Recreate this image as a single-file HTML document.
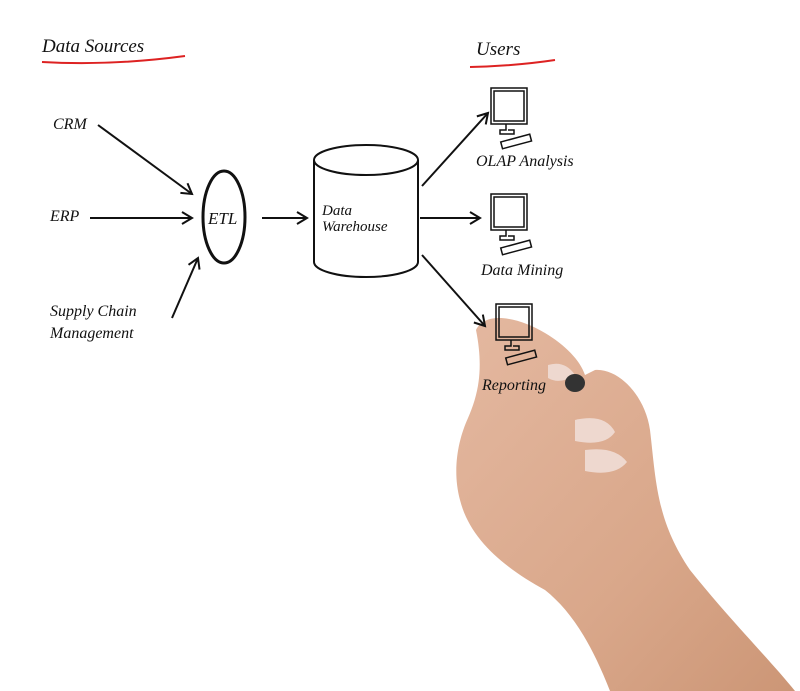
<!DOCTYPE html>
<html><head><style>
html,body{margin:0;padding:0;background:#fff;}
svg{display:block}
text{font-family:"Liberation Serif","DejaVu Serif",serif;font-style:italic;fill:#111;}
</style></head><body>
<svg width="800" height="691" viewBox="0 0 800 691" xmlns="http://www.w3.org/2000/svg">
<defs>
<marker id="a" markerWidth="14" markerHeight="14" refX="11" refY="7" orient="auto" markerUnits="userSpaceOnUse">
<path d="M1,1 L11,7 L1,13" fill="none" stroke="#111" stroke-width="2"/>
</marker>
<linearGradient id="sk" x1="0" y1="0" x2="1" y2="1">
<stop offset="0" stop-color="#e4b8a0"/><stop offset="0.6" stop-color="#d9a78a"/><stop offset="1" stop-color="#cc9676"/>
</linearGradient>
</defs>
<path d="M476,330 C486,310 520,318 545,333 C565,345 580,360 585,375 L595,370 C618,368 645,395 650,430 C656,480 656,520 690,570 C730,620 770,660 795,691 L610,691 C590,640 570,610 545,590 C505,568 470,540 460,500 C452,470 458,440 468,418 C478,395 484,370 476,330 Z" fill="url(#sk)"/>
<path d="M575,420 Q605,413 615,432 Q605,447 575,441 Z" fill="#eed8cf"/>
<path d="M585,450 Q615,446 627,462 Q615,477 585,471 Z" fill="#eed8cf"/>
<path d="M548,365 Q565,360 575,375 Q560,385 548,378 Z" fill="#eed8cf"/>
<ellipse cx="575" cy="383" rx="10" ry="9" fill="#333"/>
<text x="42" y="52" font-size="19">Data Sources</text>
<path d="M42,62 Q110,66 185,56" stroke="#d22" stroke-width="2" fill="none"/>
<text x="476" y="55" font-size="19">Users</text>
<path d="M470,67 Q515,66 555,60" stroke="#d22" stroke-width="2" fill="none"/>
<text x="53" y="129" font-size="16">CRM</text>
<text x="50" y="221" font-size="16">ERP</text>
<text x="50" y="316" font-size="16">Supply Chain</text>
<text x="50" y="338" font-size="16">Management</text>
<g stroke="#111" stroke-width="2" fill="none">
<line x1="98" y1="125" x2="192" y2="194" marker-end="url(#a)"/>
<line x1="90" y1="218" x2="192" y2="218" marker-end="url(#a)"/>
<line x1="172" y1="318" x2="198" y2="258" marker-end="url(#a)"/>
<ellipse cx="224" cy="217" rx="21" ry="46" stroke-width="3"/>
<line x1="262" y1="218" x2="307" y2="218" marker-end="url(#a)"/>
<path d="M314,160 L314,262 A52,15 0 0 0 418,262 L418,160"/>
<ellipse cx="366" cy="160" rx="52" ry="15"/>
<line x1="422" y1="186" x2="488" y2="113" marker-end="url(#a)"/>
<line x1="420" y1="218" x2="480" y2="218" marker-end="url(#a)"/>
<line x1="422" y1="255" x2="485" y2="326" marker-end="url(#a)"/>
</g>
<text x="208" y="224" font-size="17">ETL</text>
<text x="322" y="215" font-size="15">Data</text>
<text x="322" y="231" font-size="15">Warehouse</text>
<g stroke="#111" stroke-width="1.5" fill="#fff">
<g transform="translate(491,88)"><rect x="0" y="0" width="36" height="36"/><rect x="3" y="3" width="30" height="30"/><path d="M15,36 v6 h-6 v4 h14 v-4 h-6"/><rect x="10" y="50" width="30" height="7" transform="rotate(-15 25 53)"/></g>
<g transform="translate(491,194)"><rect x="0" y="0" width="36" height="36"/><rect x="3" y="3" width="30" height="30"/><path d="M15,36 v6 h-6 v4 h14 v-4 h-6"/><rect x="10" y="50" width="30" height="7" transform="rotate(-15 25 53)"/></g>
<g transform="translate(496,304)" fill="none"><rect x="0" y="0" width="36" height="36"/><rect x="3" y="3" width="30" height="30"/><path d="M15,36 v6 h-6 v4 h14 v-4 h-6"/><rect x="10" y="50" width="30" height="7" transform="rotate(-15 25 53)"/></g>
</g>
<text x="476" y="166" font-size="16">OLAP Analysis</text>
<text x="481" y="275" font-size="16">Data Mining</text>
<text x="482" y="390" font-size="16">Reporting</text>
</svg>
</body></html>
